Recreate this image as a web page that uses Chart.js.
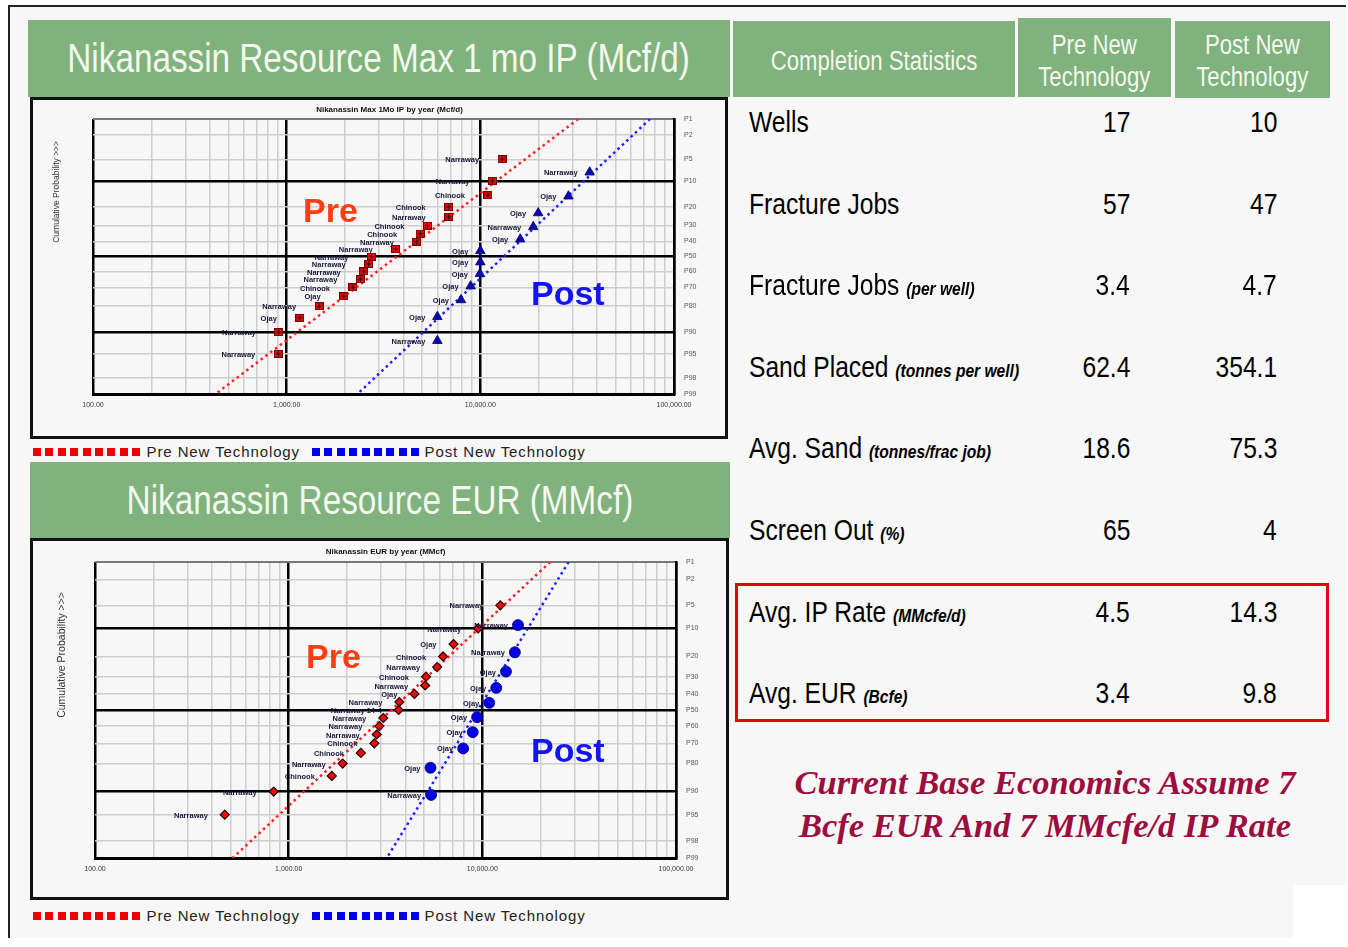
<!DOCTYPE html>
<html>
<head>
<meta charset="utf-8">
<title>Nikanassin Resource - Pre vs Post New Technology</title>
<script src="https://cdn.jsdelivr.net/npm/chart.js@4.4.1/dist/chart.umd.min.js"></script>
<style>
  body { margin: 0; width: 1348px; height: 947px; background: #fff; position: relative; overflow: hidden;
         font-family: "Liberation Sans", Arial, sans-serif; }
  .abs { position: absolute; }
  /* no narrow face installed: squeeze Liberation Sans instead */
  .sq { display: inline-block; transform: scaleX(0.82); white-space: nowrap; flex: none; }
  .sqL { transform-origin: left center; }
  .sqR { transform-origin: right center; }
  #slide { left: 8px; top: 5px; width: 1338px; height: 933px; background: #f7f7f7;
           border-top: 2px solid #222; border-left: 2px solid #222; box-sizing: border-box; }
  .banner { background: #7fb27d; color: #f4f8ef; text-align: center; white-space: nowrap;
            display: flex; justify-content: center; }
  .box { border: 3px solid #111; box-sizing: border-box; }
  .big { font-weight: bold; font-size: 34px; line-height: 34px; white-space: nowrap; }
  .legend { height: 16px; line-height: 16px; font-size: 15px; letter-spacing: 0.9px; color: #222; white-space: nowrap; }
  .legend i { display: inline-block; width: 8px; height: 8px; margin-right: 4.4px; vertical-align: 1px; }
  .row { height: 40px; line-height: 40px; font-size: 30px; color: #000; white-space: nowrap; }
  .row em { font-size: 19px; font-weight: bold; }
  .num { text-align: right; width: 110px; }
  .note { left: 760px; top: 761px; width: 570px; text-align: center; color: #9c0e3e;
          font: italic bold 34.5px/43px "Liberation Serif", "Times New Roman", serif; }
</style>
</head>
<body>
<div id="slide" class="abs"></div>
<div class="abs" style="left:1293px;top:885px;width:55px;height:62px;background:#fff"></div>

<!-- top chart -->
<div class="abs banner" style="left:28px;top:20px;width:702px;height:77px;line-height:77px;font-size:40.6px"><span class="sq">Nikanassin Resource Max 1 mo IP (Mcf/d)</span></div>
<div class="abs box" style="left:30px;top:97px;width:698px;height:342px"></div>
<canvas id="ipChart" class="abs" style="left:33px;top:98px" width="694" height="338"></canvas>
<div class="abs big" style="left:303px;top:193px;color:#ff3c14">Pre</div>
<div class="abs big" style="left:531px;top:276px;color:#1414f0">Post</div>
<div class="abs legend" id="legendTop" style="left:33px;top:444px"></div>

<!-- bottom chart -->
<div class="abs banner" style="left:30px;top:462px;width:700px;height:76px;line-height:76px;font-size:40.6px"><span class="sq">Nikanassin Resource EUR (MMcf)</span></div>
<div class="abs box" style="left:30px;top:538px;width:699px;height:362px"></div>
<canvas id="eurChart" class="abs" style="left:34px;top:541px" width="693" height="356"></canvas>
<div class="abs big" style="left:306px;top:639px;color:#ff3c14">Pre</div>
<div class="abs big" style="left:531px;top:733px;color:#1414f0">Post</div>
<div class="abs legend" id="legendBottom" style="left:33px;top:908px"></div>

<!-- statistics table -->
<div class="abs banner" style="left:733px;top:21px;width:282px;height:76px;line-height:80px;font-size:27px"><span class="sq">Completion Statistics</span></div>
<div class="abs banner" style="left:1018px;top:18px;width:153px;height:79px;font-size:27px;line-height:32px;padding-top:11px;box-sizing:border-box"><span class="sq">Pre New<br>Technology</span></div>
<div class="abs banner" style="left:1175px;top:21px;width:155px;height:77px;font-size:27px;line-height:32px;padding-top:8px;box-sizing:border-box"><span class="sq">Post New<br>Technology</span></div>
<div id="statRows"></div>
<div class="abs" style="left:735px;top:583px;width:594px;height:139px;border:3px solid #e8000b;box-sizing:border-box"></div>
<div class="abs note">Current Base Economics Assume 7<br>Bcfe EUR And 7 MMcfe/d IP Rate</div>

<script>
// ---- data ----

// probability axis (right hand labels)
const probTicks = [1, 2, 5, 10, 20, 30, 40, 50, 60, 70, 80, 90, 95, 98, 99];
const probLabels = ['P1', 'P2', 'P5', 'P10', 'P20', 'P30', 'P40', 'P50', 'P60', 'P70', 'P80', 'P90', 'P95', 'P98', 'P99'];
const heavyProb = [10, 50, 90];
const xTickLabels = ['100.00', '1,000.00', '10,000.00', '100,000.00'];

// Max 1 mo IP (Mcf/d)
const ipPreProb = [5, 10, 15, 20, 25, 30, 35, 40, 45, 50, 55, 60, 65, 70, 75, 80, 85, 90, 95];
const ipPreRate = [12950, 11560, 10940, 6870, 6870, 5330, 4890, 4700, 3650, 2740, 2650, 2500, 2400, 2200, 1970, 1470, 1170, 910, 905];
const ipPreWells = ['Narraway', 'Narraway', 'Chinook', 'Chinook', 'Narraway', 'Chinook', 'Chinook', 'Narraway', 'Narraway', 'Narraway',
                    'Narraway', 'Narraway', 'Narraway', 'Chinook', 'Ojay', 'Narraway', 'Ojay', 'Narraway', 'Narraway'];
const ipPostProb = [7.7, 15.4, 23.1, 30.8, 38.5, 46.2, 53.8, 61.5, 69.2, 76.9, 84.6, 92.3];
const ipPostRate = [36700, 28500, 19900, 18760, 16070, 10000, 10000, 9950, 8910, 7950, 6000, 6000];
const ipPostWells = ['Narraway', 'Ojay', 'Ojay', 'Narraway', 'Ojay', 'Ojay', 'Ojay', 'Ojay', 'Ojay', 'Ojay', 'Ojay', 'Narraway'];
const ipFitProb = [1, 99];
const ipPreFit = [32000, 430];
const ipPostFit = [75200, 2320];

// EUR (MMcf)
const eurPreProb = [5, 10, 15, 20, 25, 30, 35, 40, 45, 50, 55, 60, 65, 70, 75, 80, 85, 90, 95];
const eurPreVol = [12380, 9510, 7100, 6270, 5840, 5120, 5070, 4460, 3730, 3700, 3080, 2940, 2850, 2770, 2360, 1900, 1670, 837, 468];
const eurPreWells = ['Narraway', 'Narraway', 'Ojay', 'Chinook', 'Narraway', 'Chinook', 'Narraway', 'Ojay', 'Narraway', 'Narraway 14-4',
                     'Narraway', 'Narraway', 'Narraway', 'Chinook', 'Chinook', 'Narraway', 'Chinook', 'Narraway', 'Narraway'];
const eurPostProb = [9.1, 18.2, 27.3, 36.4, 45.5, 54.5, 63.6, 72.7, 81.8, 90.9];
const eurPostVol = [15280, 14720, 13250, 11800, 10860, 9400, 8920, 7960, 5400, 5440];
const eurPostWells = ['Narraway', 'Narraway', 'Ojay', 'Ojay', 'Ojay', 'Ojay', 'Ojay', 'Ojay', 'Ojay', 'Narraway'];
const eurFitProb = [1, 99];
const eurPreFit = [22400, 514];
const eurPostFit = [27900, 3210];

// completion statistics table
const statLabels = ['Wells', 'Fracture Jobs', 'Fracture Jobs', 'Sand Placed', 'Avg. Sand', 'Screen Out', 'Avg. IP Rate', 'Avg. EUR'];
const statUnits = ['', '', '(per well)', '(tonnes per well)', '(tonnes/frac job)', '(%)', '(MMcfe/d)', '(Bcfe)'];
const statPre = ['17', '57', '3.4', '62.4', '18.6', '65', '4.5', '3.4'];
const statPost = ['10', '47', '4.7', '354.1', '75.3', '4', '14.3', '9.8'];

// ---- normal probability axis ----
function probit(p) {
    // Acklam's inverse normal approximation
    const a = [-39.69683028665376, 220.9460984245205, -275.9285104469687, 138.3577518672690, -30.66479806614716, 2.506628277459239];
    const b = [-54.47609879822406, 161.5858368580409, -155.6989798598866, 66.80131188771972, -13.28068155288572];
    const c = [-0.007784894002430293, -0.3223964580411365, -2.400758277161838, -2.549732539343734, 4.374664141464968, 2.938163982698783];
    const d = [0.007784695709041462, 0.3224671290700398, 2.445134137142996, 3.754408661907416];
    const lo = 0.02425;
    if (p < lo) {
        const q = Math.sqrt(-2 * Math.log(p));
        return (((((c[0] * q + c[1]) * q + c[2]) * q + c[3]) * q + c[4]) * q + c[5]) / ((((d[0] * q + d[1]) * q + d[2]) * q + d[3]) * q + 1);
    }
    if (p > 1 - lo) {
        const q = Math.sqrt(-2 * Math.log(1 - p));
        return -(((((c[0] * q + c[1]) * q + c[2]) * q + c[3]) * q + c[4]) * q + c[5]) / ((((d[0] * q + d[1]) * q + d[2]) * q + d[3]) * q + 1);
    }
    const q = p - 0.5, r = q * q;
    return (((((a[0] * r + a[1]) * r + a[2]) * r + a[3]) * r + a[4]) * r + a[5]) * q / (((((b[0] * r + b[1]) * r + b[2]) * r + b[3]) * r + b[4]) * r + 1);
}

class ProbitScale extends Chart.Scale {
    determineDataLimits() {
        this.min = this.options.min;
        this.max = this.options.max;
    }
    buildTicks() {
        return probTicks.map(v => ({ value: v }));
    }
    getLabelForValue(v) {
        return 'P' + v;
    }
    configure() {
        super.configure();
        this._zStart = probit(this.min / 100);
        this._zRange = probit(this.max / 100) - this._zStart;
    }
    getPixelForValue(v) {
        return this.getPixelForDecimal((probit(v / 100) - this._zStart) / this._zRange);
    }
    getValueForPixel(px) {
        return null;
    }
}
ProbitScale.id = 'probit';
ProbitScale.defaults = {};
Chart.register(ProbitScale);

Chart.defaults.font.family = '"Liberation Sans", Arial, sans-serif';

// x grid: 1..9 in every decade
const xGridValues = [];
[100, 1000, 10000].forEach(dec => { for (let k = 1; k <= 9; k++) xGridValues.push(k * dec); });
xGridValues.push(100000);

function isDecade(v) {
    const l = Math.log10(v);
    return Math.abs(l - Math.round(l)) < 1e-9;
}

function toPoints(probs, vals) {
    return probs.map((p, i) => ({ x: vals[i], y: p }));
}

// red square with a black cross, used on the IP chart
function squareCross() {
    const c = document.createElement('canvas');
    c.width = 9; c.height = 8;
    const g = c.getContext('2d');
    g.fillStyle = '#ea0a0a';
    g.fillRect(0, 0, 9, 8);
    g.strokeStyle = '#7a0000';
    g.lineWidth = 1;
    g.strokeRect(0.5, 0.5, 8, 7);
    g.strokeStyle = '#111';
    g.beginPath();
    g.moveTo(4.5, 1.5); g.lineTo(4.5, 6.5);
    g.moveTo(2, 4); g.lineTo(7, 4);
    g.stroke();
    return c;
}

// titles, y caption and well name labels
const decorPlugin = {
    id: 'decor',
    afterDatasetsDraw(chart, args, o) {
        const ctx = chart.ctx;
        const a = chart.chartArea;
        ctx.save();
        ctx.textBaseline = 'middle';
        ctx.fillStyle = '#16163a';
        ctx.font = 'bold 7.5px "Liberation Sans"';
        ctx.textAlign = 'right';
        chart.data.datasets.forEach((ds, i) => {
            if (!ds.wellNames) return;
            chart.getDatasetMeta(i).data.forEach((pt, j) => {
                ctx.fillText(ds.wellNames[j], pt.x - ds.labelGap, pt.y + 1);
            });
        });

        ctx.fillStyle = '#111';
        ctx.textAlign = 'center';
        ctx.font = 'bold 8px "Liberation Sans"';
        ctx.fillText(o.title, (a.left + a.right) / 2 + o.titleShift, a.top + o.titleY);

        ctx.translate(a.left - o.yTitleX, a.top + (a.bottom - a.top) * o.yTitlePos);
        ctx.rotate(-Math.PI / 2);
        ctx.font = o.yTitleSize + 'px "Liberation Sans"';
        ctx.fillStyle = '#333';
        ctx.fillText('Cumulative Probability >>>', 0, 0);
        ctx.restore();
    }
};

function buildChart(canvasId, cfg) {
    const ctx = document.getElementById(canvasId).getContext('2d');
    return new Chart(ctx, {
        type: 'scatter',
        data: {
            datasets: [
                {
                    label: 'Post New Technology',
                    data: toPoints(cfg.postProb, cfg.postVals),
                    pointStyle: cfg.postStyle,
                    pointRadius: cfg.postRadius,
                    backgroundColor: cfg.postColor,
                    borderColor: '#000060',
                    borderWidth: 0.8,
                    wellNames: cfg.postWells,
                    labelGap: cfg.postGap
                },
                {
                    label: 'Pre New Technology',
                    data: toPoints(cfg.preProb, cfg.preVals),
                    pointStyle: cfg.preStyle,
                    pointRadius: cfg.preRadius,
                    backgroundColor: '#ea0a0a',
                    borderColor: '#2a0000',
                    borderWidth: 1.2,
                    wellNames: cfg.preWells,
                    labelGap: cfg.preGap
                },
                {
                    label: 'Pre trend',
                    data: toPoints(cfg.fitProb, cfg.preFit),
                    showLine: true,
                    borderColor: '#ff2020',
                    borderWidth: 2.5,
                    borderDash: [2.5, 3.5],
                    pointRadius: 0
                },
                {
                    label: 'Post trend',
                    data: toPoints(cfg.fitProb, cfg.postFit),
                    showLine: true,
                    borderColor: '#2020ff',
                    borderWidth: 2.5,
                    borderDash: [2.5, 3.5],
                    pointRadius: 0
                }
            ]
        },
        options: {
            responsive: false,
            animation: false,
            events: [],
            layout: { padding: { left: cfg.padLeft, top: cfg.padTop, right: 0, bottom: 0 } },
            plugins: {
                legend: { display: false },
                tooltip: { enabled: false },
                decor: {
                    title: cfg.title,
                    titleShift: cfg.titleShift,
                    titleY: cfg.titleY,
                    yTitleX: cfg.yTitleX,
                    yTitlePos: cfg.yTitlePos,
                    yTitleSize: cfg.yTitleSize
                }
            },
            scales: {
                x: {
                    type: 'logarithmic',
                    min: 100,
                    max: 100000,
                    afterBuildTicks: scale => { scale.ticks = xGridValues.map(v => ({ value: v })); },
                    afterFit: scale => { scale.height = cfg.xHeight; },
                    ticks: {
                        autoSkip: false,
                        maxRotation: 0,
                        padding: 7,
                        color: '#333',
                        font: { size: 7 },
                        callback: v => isDecade(v) ? xTickLabels[Math.round(Math.log10(v)) - 2] : ''
                    },
                    grid: {
                        drawTicks: false,
                        color: c => isDecade(c.tick.value) ? '#000' : '#cdcdcd',
                        lineWidth: c => isDecade(c.tick.value) ? 2.5 : 1.5
                    },
                    border: { color: '#000', width: 3 }
                },
                y: {
                    type: 'probit',
                    position: 'right',
                    min: 1,
                    max: 99,
                    reverse: true,
                    afterFit: scale => { scale.width = cfg.yWidth; },
                    ticks: {
                        autoSkip: false,
                        padding: 10,
                        color: '#555',
                        font: { size: 7 },
                        callback: (v, i) => probLabels[i]
                    },
                    grid: {
                        drawTicks: false,
                        color: c => heavyProb.includes(c.tick.value) ? '#000' : (c.tick.value === 1 ? '#777' : '#cdcdcd'),
                        lineWidth: c => heavyProb.includes(c.tick.value) ? 2.5 : (c.tick.value === 1 ? 2 : 1.5)
                    },
                    border: { color: '#000', width: 2.5 }
                }
            }
        },
        plugins: [decorPlugin]
    });
}

buildChart('ipChart', {
    title: 'Nikanassin Max 1Mo IP by year (Mcf/d)',
    titleShift: 6, titleY: -9,
    yTitleX: 36, yTitlePos: 0.265, yTitleSize: 8.5,
    padLeft: 60, padTop: 21, xHeight: 42, yWidth: 53,
    preProb: ipPreProb, preVals: ipPreRate, preWells: ipPreWells,
    preStyle: squareCross(), preRadius: 4, preGap: 23,
    postProb: ipPostProb, postVals: ipPostRate, postWells: ipPostWells,
    postStyle: 'triangle', postRadius: 5.5, postColor: '#0a0ab4', postGap: 12,
    fitProb: ipFitProb, preFit: ipPreFit, postFit: ipPostFit
});

buildChart('eurChart', {
    title: 'Nikanassin EUR by year (MMcf)',
    titleShift: 0, titleY: -10,
    yTitleX: 33, yTitlePos: 0.314, yTitleSize: 10.5,
    padLeft: 61, padTop: 21, xHeight: 39, yWidth: 51,
    preProb: eurPreProb, preVals: eurPreVol, preWells: eurPreWells,
    preStyle: 'rectRot', preRadius: 4.5, preGap: 17,
    postProb: eurPostProb, postVals: eurPostVol, postWells: eurPostWells,
    postStyle: 'circle', postRadius: 5.5, postColor: '#0000e6', postGap: 10,
    fitProb: eurFitProb, preFit: eurPreFit, postFit: eurPostFit
});

// legends under the charts
function legendHtml() {
    let html = '';
    for (let i = 0; i < 9; i++) html += '<i style="background:#ee0000"></i>';
    html += '<span style="margin-left:2px">Pre New Technology</span>';
    html += '<span style="display:inline-block;width:12px"></span>';
    for (let i = 0; i < 9; i++) html += '<i style="background:#0000ee"></i>';
    html += '<span style="margin-left:1px">Post New Technology</span>';
    return html;
}
document.getElementById('legendTop').innerHTML = legendHtml();
document.getElementById('legendBottom').innerHTML = legendHtml();

// statistics rows
const rowsEl = document.getElementById('statRows');
statLabels.forEach((lab, i) => {
    const top = Math.round(122 + i * 81.6 - 20);
    const unit = statUnits[i] ? ' <em>' + statUnits[i] + '</em>' : '';
    rowsEl.insertAdjacentHTML('beforeend',
        '<div class="abs row" style="left:749px;top:' + top + 'px"><span class="sq sqL">' + lab + unit + '</span></div>' +
        '<div class="abs row num" style="left:1020px;top:' + top + 'px"><span class="sq sqR">' + statPre[i] + '</span></div>' +
        '<div class="abs row num" style="left:1167px;top:' + top + 'px"><span class="sq sqR">' + statPost[i] + '</span></div>');
});
</script>
</body>
</html>
